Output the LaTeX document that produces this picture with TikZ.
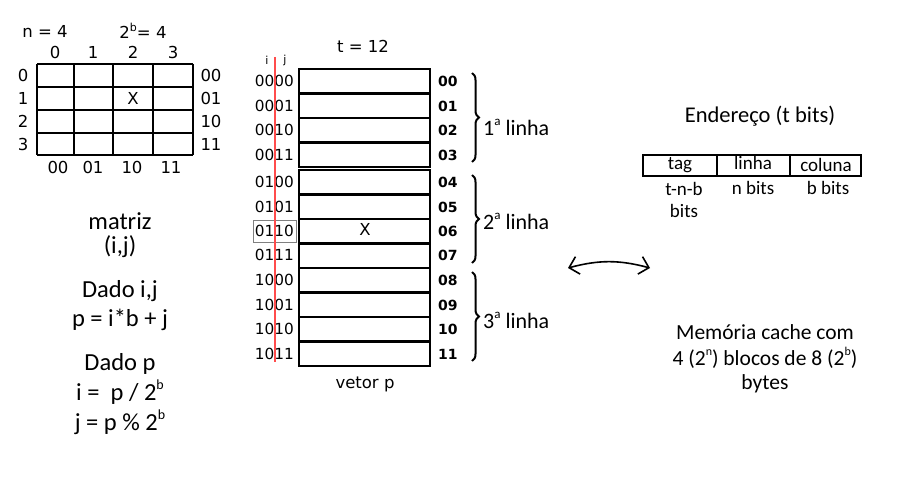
\documentclass[tikz,border=0pt]{standalone}
\usepackage{fontspec}
\setmainfont{Carlito}
\newfontfamily\digfont{DejaVu Sans}
\usetikzlibrary{arrows.meta,decorations.pathreplacing}

\newcommand{\up}[2][14]{\raisebox{0.45em}{\fontsize{#1}{#1}\selectfont #2}}

\tikzset{
  bigtxt/.style={font=\fontsize{24.5}{28}\selectfont, inner sep=0pt},
  cachetxt/.style={font=\fontsize{21.5}{24}\selectfont, inner sep=0pt},
  smalltxt/.style={font=\fontsize{19}{20}\selectfont, inner sep=0pt},
  numtxt/.style={font=\digfont\fontsize{16.5}{18}\selectfont, inner sep=0pt},
  bintxt/.style={font=\digfont\fontsize{15.3}{18}\selectfont, inner sep=0pt, anchor=east},
  idxtxt/.style={font=\digfont\bfseries\fontsize{14}{18}\selectfont, inner sep=0pt, anchor=west},
  thick line/.style={line width=2.3pt},
  group brace/.style={decorate, decoration={brace, amplitude=7pt}, line width=2pt},
}

\begin{document}
\begin{tikzpicture}[x=1pt,y=-1pt]
  \useasboundingbox (0,0) rectangle (900,500);

  %matrix header
  \node[numtxt] (n) at (45,31) {n = 4};
  \node[numtxt] (b) at (143,31) {2\up[11]{b}= 4};

  %matrix grid
  \foreach \y in {64,87,110,133,155}
    \draw[thick line] (37,\y) -- (193,\y);
  \foreach \x in {37,74,113,153,193}
    \draw[thick line] (\x,64) -- (\x,155);
  \node[numtxt] (mx) at (133,98) {X};

  %matrix labels
  \foreach \c/\x in {0/55,1/93,2/133,3/173}
    \node[numtxt] (col\c) at (\x,52) {\c};
  \foreach \r/\y in {0/75,1/98,2/121,3/144}
    \node[numtxt] (row\r) at (23,\y) {\r};
  \foreach \r/\s/\y in {0/00/75,1/01/98,2/10/121,3/11/144}
    \node[numtxt] (rbin\r) at (211,\y) {\s};
  \foreach \c/\s/\x in {0/00/58,1/01/93,2/10/132,3/11/171}
    \node[numtxt] (cbin\c) at (\x,167) {\s};

  %formulas
  \node[bigtxt] (matriz) at (120,221) {matriz};
  \node[bigtxt] (ij) at (120,247) {(i,j)};
  \node[bigtxt] (dadoij) at (120,291) {Dado i,j};
  \node[bigtxt] (peq) at (120,320) {p = i*b + j};
  \node[bigtxt] (dadop) at (120,364) {Dado p};
  \node[bigtxt] (ieq) at (120,392) {i =~ p / 2\up{b}};
  \node[bigtxt] (jeq) at (120,422) {j = p \% 2\up{b}};

  %vector
  \node[numtxt] (t) at (363,46) {t = 12};
  \foreach \g/\top in {0/69,1/170,2/268}
    \foreach \k in {0,1,2,3}
      \draw[thick line] (299,{\top+24.5*\k}) rectangle (430,{\top+24.5*(\k+1)});
  \node[numtxt] (vx) at (365,229) {X};
  \node[numtxt] (vetor) at (365,384) {vetor p};

  %binary addresses and indices
  \foreach \i/\s/\y in {0/0000/81,1/0001/106,2/0010/130,3/0011/155,
                        4/0100/182,5/0101/207,6/0110/231,7/0111/255,
                        8/1000/280,9/1001/305,10/1010/329,11/1011/354}
    \node[bintxt] (bin\i) at (294,\y) {\s};
  \foreach \i/\s/\y in {0/00/81,1/01/106,2/02/130,3/03/155,
                        4/04/182,5/05/207,6/06/231,7/07/255,
                        8/08/280,9/09/305,10/10/329,11/11/354}
    \node[idxtxt] (idx\i) at (438,\y) {\s};
  \draw[gray, line width=1pt] (253,220) rectangle (296,242);

  %i|j split
  \coordinate (redtop) at (275,57);
  \coordinate (redbot) at (275,362);
  \draw[red!70, line width=1.4pt] (redtop) -- (redbot);
  \node[font=\digfont\fontsize{11}{12}\selectfont, inner sep=0pt] (ilab) at (267,60) {i};
  \node[font=\digfont\fontsize{11}{12}\selectfont, inner sep=0pt] (jlab) at (285,60) {j};

  %line braces
  \foreach \l/\top/\bot/\mid in {1/73/162/127,2/175/263/221,3/272/361/320}
  {
    \draw[group brace] (472,\top) -- (472,\bot);
    \node[smalltxt, font=\fontsize{22}{24}\selectfont, anchor=west] (linha\l) at (483,\mid) {\l\up[13]{a} linha};
  }

  %double arrow
  \coordinate (arrl) at (568,268);
  \coordinate (arrr) at (650,268);
  \draw[line width=1.6pt, {Straight Barb[length=9pt,width=18pt]}-{Straight Barb[length=9pt,width=18pt]}]
    (arrl) to[bend left=15] (arrr);

  %address
  \node[bigtxt, font=\fontsize{22.5}{26}\selectfont] (endereco) at (760,116) {Endereço (t bits)};
  \draw[thick line] (643,155) rectangle (717,176);
  \draw[thick line] (717,155) rectangle (790,176);
  \draw[thick line] (790,155) rectangle (861,176);
  \node[smalltxt] (tag) at (680,165) {tag};
  \node[smalltxt] (linha) at (753,163) {linha};
  \node[smalltxt] (coluna) at (826,165) {coluna};
  \node[smalltxt] (tnb) at (684,189) {t-n-b};
  \node[smalltxt] (tnbbits) at (684,211) {bits};
  \node[smalltxt] (nbits) at (753,188) {n bits};
  \node[smalltxt] (bbits) at (828,188) {b bits};

  %cache
  \node[cachetxt] (cache1) at (765,332) {Memória cache com};
  \node[cachetxt] (cache2) at (765,358) {4 (2\up[12]{n}) blocos de 8 (2\up[12]{b})};
  \node[cachetxt] (cache3) at (765,384) {bytes};
\end{tikzpicture}
\end{document}
